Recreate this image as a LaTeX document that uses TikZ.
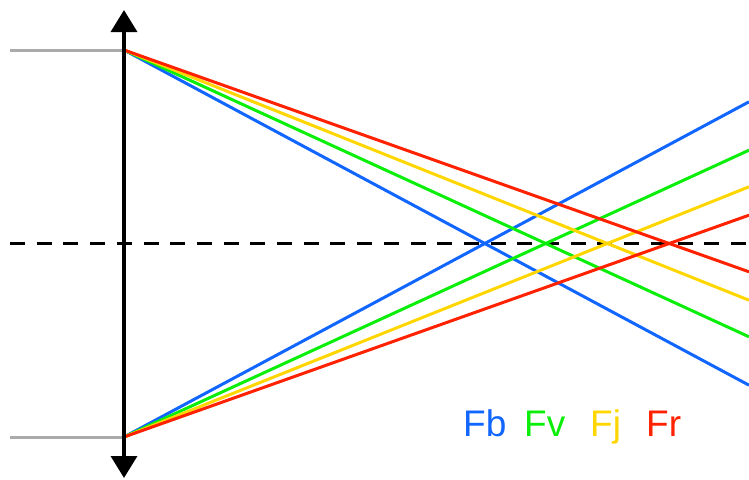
\documentclass[tikz,border=0pt]{standalone}
\usepackage{fontspec}
\setmainfont{Liberation Sans}
\usetikzlibrary{arrows.meta}
\definecolor{rblue}{RGB}{17,102,255}
\definecolor{rgreen}{RGB}{10,238,10}
\definecolor{ryellow}{RGB}{255,214,0}
\definecolor{rred}{RGB}{255,34,0}
\definecolor{rgray}{RGB}{170,170,170}
\begin{document}
\begin{tikzpicture}[x=1pt,y=-1pt,
  ray/.style={line width=3pt},
  incident/.style={line width=3pt,rgray},
  axisline/.style={line width=3.5pt,dash pattern=on 15pt off 11.7pt},
  lens/.style={line width=3.5pt,{Triangle[width=26pt,length=22pt]}-{Triangle[width=26pt,length=22pt]}},
  lbl/.style={anchor=base west,inner sep=0pt,font=\fontsize{37}{40}\selectfont}]
\useasboundingbox (0,0) rectangle (749,479);
% key points
\coordinate (T) at (124,50);
\coordinate (B) at (124,437);
\coordinate (Tl) at (10,50);
\coordinate (Bl) at (10,437);
\coordinate (Ltop) at (124,10);
\coordinate (Lbot) at (124,478);
\coordinate (Al) at (10,243.5);
\coordinate (Ar) at (749,243.5);
% ray ends at right border
\coordinate (bD) at (749,385.2);
\coordinate (bU) at (749,101.8);
\coordinate (gD) at (749,336.8);
\coordinate (gU) at (749,150.2);
\coordinate (yD) at (749,300.2);
\coordinate (yU) at (749,186.8);
\coordinate (rD) at (749,271.8);
\coordinate (rU) at (749,215.2);
% axis
\draw[axisline] (Al) -- (Ar);
% incident rays
\draw[incident] (Tl) -- (T);
\draw[incident] (Bl) -- (B);
% refracted rays
\draw[ray,rblue] (T) -- (bD);
\draw[ray,rblue] (B) -- (bU);
\draw[ray,rgreen] (T) -- (gD);
\draw[ray,rgreen] (B) -- (gU);
\draw[ray,ryellow] (T) -- (yD);
\draw[ray,ryellow] (B) -- (yU);
\draw[ray,rred] (T) -- (rD);
\draw[ray,rred] (B) -- (rU);
% lens
\draw[lens] (Ltop) -- (Lbot);
% labels
\node[lbl,text=rblue] (Fb) at (463,436) {Fb};
\node[lbl,text=rgreen] (Fv) at (524,436) {Fv};
\node[lbl,text=ryellow] (Fj) at (590,436) {Fj};
\node[lbl,text=rred] (Fr) at (646,436) {Fr};
\end{tikzpicture}
\end{document}
